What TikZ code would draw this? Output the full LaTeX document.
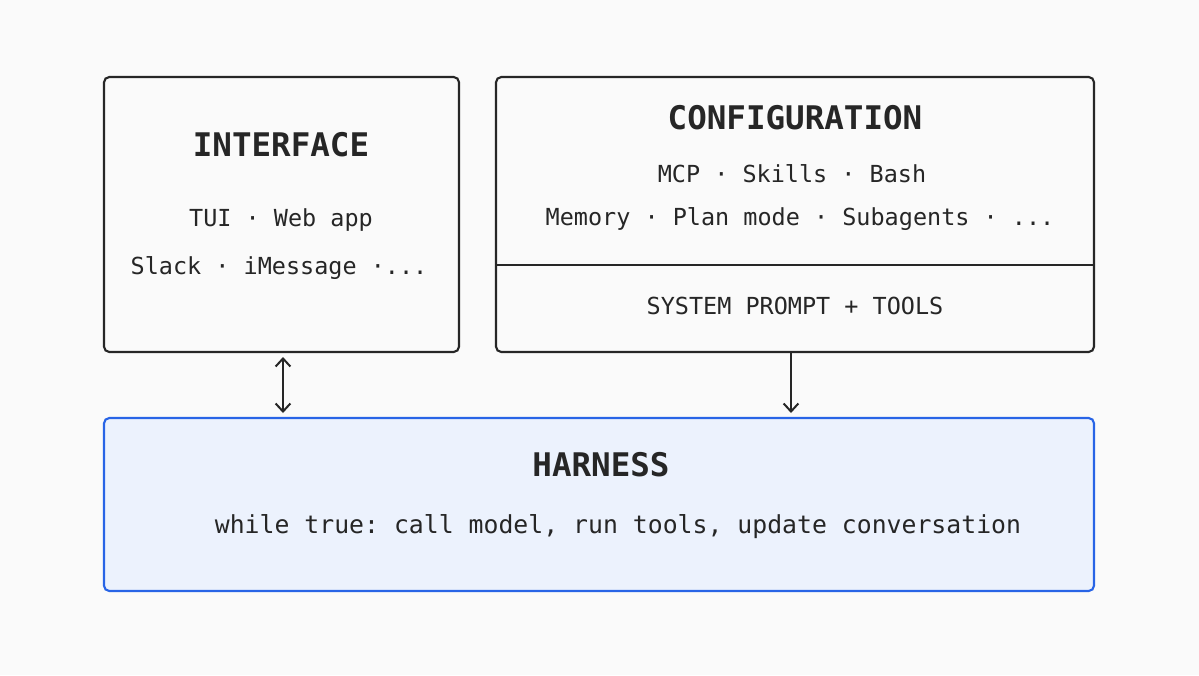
\documentclass[tikz,border=0pt]{standalone}
\usepackage{fontspec}
\setmonofont{DejaVu Sans Mono}
\usetikzlibrary{arrows.meta}
\begin{document}
\begin{tikzpicture}[x=0.75pt,y=-0.75pt,
  box/.style={draw=black!85,line width=1.6pt,rounded corners=4pt},
  ttl/.style={font=\ttfamily\bfseries\fontsize{24.4}{28}\selectfont,text=black!85},
  txt/.style={font=\ttfamily\fontsize{17.6}{21}\selectfont,text=black!85},
  tip/.style={Straight Barb[length=6pt,width=11pt]},
  arr/.style={line width=1.5pt,draw=black!85,-{Straight Barb[length=6pt,width=11pt]}}]
\fill[black!2] (0,0) rectangle (1199,675);
\useasboundingbox (0,0) rectangle (1199,675);
\draw[box] (104,77) rectangle (459,352);
\draw[box] (496,77) rectangle (1094,352);
\draw[line width=1.6pt,black!85] (496,265) -- (1094,265);
\draw[box,draw={rgb,255:red,40;green,100;blue,230},fill={rgb,255:red,236;green,242;blue,253}] (104,418) rectangle (1094,591);
\node[ttl] (it) at (281,145) {INTERFACE};
\node[txt] (i1) at (281,220) {TUI · Web app};
\node[txt] (i2) at (279,268) {Slack · iMessage ·...};
\node[ttl] (ct) at (795,118) {CONFIGURATION};
\node[txt] (c1) at (792,174) {MCP · Skills · Bash};
\node[txt] (c2) at (800,219) {Memory · Plan mode · Subagents · ...};
\node[txt] (c3) at (795,306) {SYSTEM PROMPT + TOOLS};
\node[ttl] (ht) at (601,465) {HARNESS};
\node[font=\ttfamily\fontsize{18.6}{22}\selectfont,text=black!85] (h1) at (618,527) {while true: call model, run tools, update conversation};
\coordinate (a1) at (283,357); \coordinate (a2) at (283,413);
\coordinate (b1) at (791,352); \coordinate (b2) at (791,413);
\draw[arr,{Straight Barb[length=6pt,width=11pt]}-{Straight Barb[length=6pt,width=11pt]}] (a1) -- (a2);
\draw[arr] (b1) -- (b2);
\end{tikzpicture}
\end{document}
